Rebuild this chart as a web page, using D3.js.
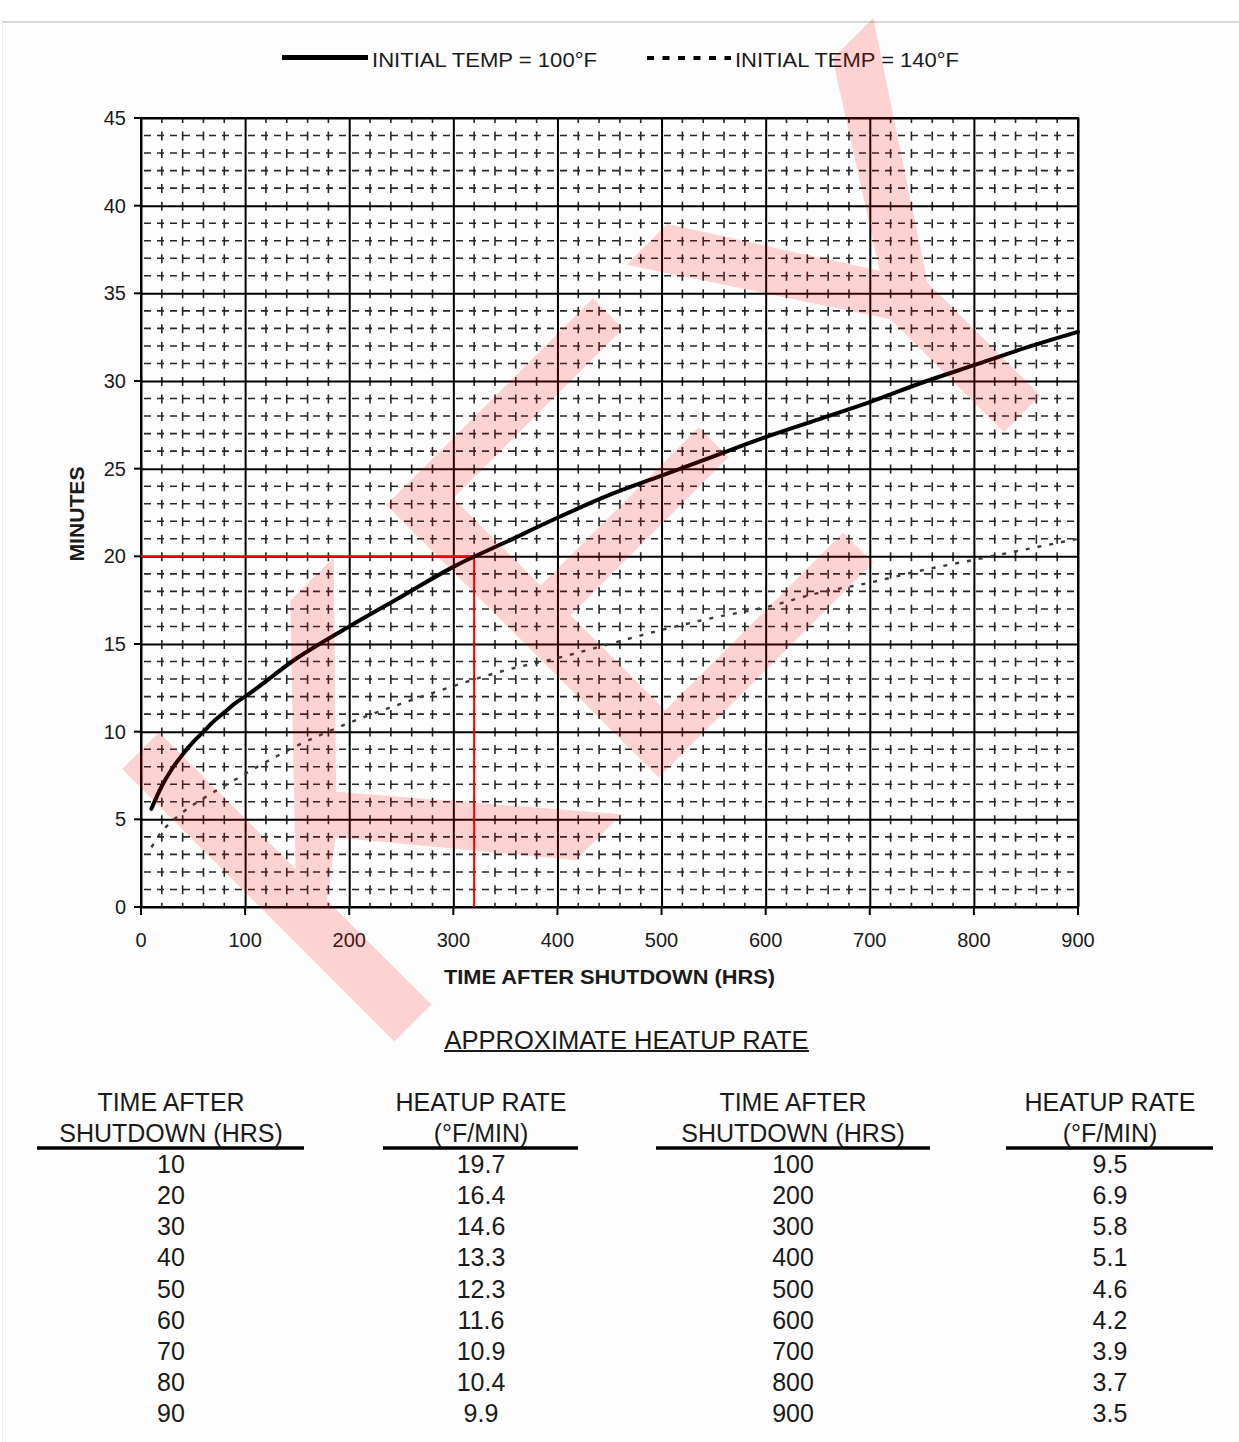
<!DOCTYPE html>
<html>
<head>
<meta charset="utf-8">
<script src="https://cdn.jsdelivr.net/npm/d3@7"></script>
<style>
  html, body { margin: 0; padding: 0; background: #fff; }
  svg { display: block; }
  text { font-family: "Liberation Sans", Arial, sans-serif; }
</style>
</head>
<body>
<svg id="chart" width="1239" height="1442"></svg>
<script>
// ---- data ----
const hourTicks = [0, 100, 200, 300, 400, 500, 600, 700, 800, 900];
const minuteTicks = [0, 5, 10, 15, 20, 25, 30, 35, 40, 45];

// Initial temp = 100°F (solid)
const hours100 = [10, 20, 30, 40, 50, 60, 70, 80, 90, 100, 150, 200, 250, 300, 350, 400, 450, 500, 550, 600, 650, 700, 750, 800, 850, 900];
const minutes100 = [5.6, 6.9, 7.9, 8.7, 9.4, 10.0, 10.6, 11.1, 11.6, 12.0, 14.2, 16.0, 17.7, 19.4, 20.8, 22.2, 23.5, 24.6, 25.7, 26.8, 27.8, 28.8, 29.9, 30.9, 31.9, 32.8];

// Initial temp = 140°F (dotted)
const hours140 = [10, 20, 30, 40, 60, 80, 100, 150, 200, 250, 300, 350, 400, 450, 500, 550, 600, 650, 700, 750, 800, 850, 900];
const minutes140 = [3.4, 4.3, 4.9, 5.4, 6.2, 6.9, 7.6, 9.2, 10.5, 11.6, 12.6, 13.5, 14.2, 15.0, 15.8, 16.5, 17.1, 17.9, 18.5, 19.2, 19.8, 20.4, 21.0];

// Reference reading marked in red
const markHours = 320;
const markMinutes = 20;

// Heatup rate table
const tableHoursA = [10, 20, 30, 40, 50, 60, 70, 80, 90];
const tableRatesA = ["19.7", "16.4", "14.6", "13.3", "12.3", "11.6", "10.9", "10.4", "9.9"];
const tableHoursB = [100, 200, 300, 400, 500, 600, 700, 800, 900];
const tableRatesB = ["9.5", "6.9", "5.8", "5.1", "4.6", "4.2", "3.9", "3.7", "3.5"];

const legendLabels = ["INITIAL TEMP = 100°F", "INITIAL TEMP = 140°F"];

// ---- layout ----
const svg = d3.select("#chart");
const plot = { left: 141, right: 1078, top: 118, bottom: 907 };
const x = d3.scaleLinear().domain([0, 900]).range([plot.left, plot.right]);
const y = d3.scaleLinear().domain([0, 45]).range([plot.bottom, plot.top]);

svg.append("rect").attr("width", 1239).attr("height", 1442).attr("fill", "#fff");

// page edge
svg.append("rect").attr("x", 2).attr("y", 22).attr("width", 1237).attr("height", 1420).attr("fill", "#fdfdfd");
svg.append("line").attr("x1", 2).attr("x2", 1239).attr("y1", 22).attr("y2", 22)
  .attr("stroke", "#c9c9c9").attr("stroke-width", 1.5);
svg.append("line").attr("x1", 2.5).attr("x2", 2.5).attr("y1", 22).attr("y2", 1442)
  .attr("stroke", "#ececec").attr("stroke-width", 1);

// ---- grid ----
const grid = svg.append("g");
const minorHours = d3.range(0, 901, 20).filter(v => v % 100 !== 0);
const minorMinutes = d3.range(0, 46, 1).filter(v => v % 5 !== 0);

grid.selectAll("line.mv").data(minorHours).join("line")
  .attr("x1", d => x(d)).attr("x2", d => x(d))
  .attr("y1", plot.top).attr("y2", plot.bottom)
  .attr("stroke", "#262626").attr("stroke-width", 1.6)
  .attr("stroke-dasharray", "9,8.53").attr("stroke-dashoffset", 4);

grid.selectAll("line.mh").data(minorMinutes).join("line")
  .attr("x1", plot.left).attr("x2", plot.right)
  .attr("y1", d => y(d)).attr("y2", d => y(d))
  .attr("stroke", "#262626").attr("stroke-width", 1.6)
  .attr("stroke-dasharray", "7,6").attr("stroke-dashoffset", -3);

// major grid + ticks via d3 axes
const xAxis = d3.axisBottom(x).tickValues(hourTicks)
  .tickSize(-(plot.bottom - plot.top)).tickSizeOuter(0).tickFormat("");
const gx = svg.append("g").attr("transform", `translate(0,${plot.bottom})`).call(xAxis);
gx.select(".domain").remove();
gx.selectAll(".tick line").attr("stroke", "#000").attr("stroke-width", 2);

const yAxis = d3.axisLeft(y).tickValues(minuteTicks)
  .tickSize(-(plot.right - plot.left)).tickSizeOuter(0).tickFormat("");
const gy = svg.append("g").attr("transform", `translate(${plot.left},0)`).call(yAxis);
gy.select(".domain").remove();
gy.selectAll(".tick line").attr("stroke", "#000").attr("stroke-width", 2);

// outside tick marks
svg.append("g").selectAll("line").data(hourTicks).join("line")
  .attr("x1", d => x(d)).attr("x2", d => x(d))
  .attr("y1", plot.bottom).attr("y2", plot.bottom + 8)
  .attr("stroke", "#000").attr("stroke-width", 2);
svg.append("g").selectAll("line").data(minuteTicks).join("line")
  .attr("x1", plot.left - 7).attr("x2", plot.left)
  .attr("y1", d => y(d)).attr("y2", d => y(d))
  .attr("stroke", "#000").attr("stroke-width", 2);

// frame
svg.append("rect")
  .attr("x", plot.left).attr("y", plot.top)
  .attr("width", plot.right - plot.left).attr("height", plot.bottom - plot.top)
  .attr("fill", "none").attr("stroke", "#000").attr("stroke-width", 2);

// tick labels
svg.append("g").selectAll("text").data(hourTicks).join("text")
  .attr("x", d => x(d)).attr("y", 947)
  .attr("text-anchor", "middle").attr("font-size", 20).attr("fill", "#1a1a1a")
  .text(d => d);
svg.append("g").selectAll("text").data(minuteTicks).join("text")
  .attr("x", 126).attr("y", d => y(d) + 7)
  .attr("text-anchor", "end").attr("font-size", 20).attr("fill", "#1a1a1a")
  .text(d => d);

// axis titles
svg.append("text")
  .attr("x", (plot.left + plot.right) / 2).attr("y", 984)
  .attr("text-anchor", "middle").attr("font-size", 21).attr("font-weight", "bold")
  .attr("fill", "#1a1a1a")
  .attr("textLength", 331).attr("lengthAdjust", "spacingAndGlyphs")
  .text("TIME AFTER SHUTDOWN (HRS)");
svg.append("text")
  .attr("transform", "translate(84,514) rotate(-90)")
  .attr("text-anchor", "middle").attr("font-size", 21).attr("font-weight", "bold")
  .attr("fill", "#1a1a1a")
  .attr("textLength", 95).attr("lengthAdjust", "spacingAndGlyphs")
  .text("MINUTES");

// ---- reference marker ----
svg.append("path")
  .attr("d", `M${x(0)},${y(markMinutes)} H${x(markHours)} V${y(0)}`)
  .attr("fill", "none").attr("stroke", "#ff0000").attr("stroke-width", 2);

// ---- curves ----
const line = d3.line().curve(d3.curveMonotoneX).x(d => x(d[0])).y(d => y(d[1]));

svg.append("path")
  .attr("d", line(d3.zip(hours140, minutes140)))
  .attr("fill", "none").attr("stroke", "#3a3a3a").attr("stroke-width", 2.4)
  .attr("stroke-dasharray", "4,8");

svg.append("path")
  .attr("d", line(d3.zip(hours100, minutes100)))
  .attr("fill", "none").attr("stroke", "#000").attr("stroke-width", 4)
  .attr("stroke-linecap", "round");

// ---- legend ----
const legend = svg.append("g");
legend.append("line").attr("x1", 282).attr("x2", 368).attr("y1", 57.5).attr("y2", 57.5)
  .attr("stroke", "#000").attr("stroke-width", 5);
legend.append("text").attr("x", 372).attr("y", 67).attr("font-size", 21).attr("fill", "#1a1a1a")
  .attr("textLength", 225).attr("lengthAdjust", "spacingAndGlyphs")
  .text(legendLabels[0]);
legend.append("line").attr("x1", 647).attr("x2", 731).attr("y1", 58).attr("y2", 58)
  .attr("stroke", "#000").attr("stroke-width", 4).attr("stroke-dasharray", "7,8.5");
legend.append("text").attr("x", 735).attr("y", 67).attr("font-size", 21).attr("fill", "#1a1a1a")
  .attr("textLength", 224).attr("lengthAdjust", "spacingAndGlyphs")
  .text(legendLabels[1]);

// ---- table ----
const table = svg.append("g").attr("fill", "#1a1a1a");
table.append("text").attr("x", 626.5).attr("y", 1049).attr("text-anchor", "middle")
  .attr("font-size", 25).attr("textLength", 364).attr("lengthAdjust", "spacingAndGlyphs")
  .text("APPROXIMATE HEATUP RATE");
table.append("line").attr("x1", 444).attr("x2", 809).attr("y1", 1051).attr("y2", 1051)
  .attr("stroke", "#1a1a1a").attr("stroke-width", 2);

const columns = [
  { cx: 171, x1: 37, x2: 304, head: ["TIME AFTER", "SHUTDOWN (HRS)"], values: tableHoursA },
  { cx: 481, x1: 383, x2: 578, head: ["HEATUP RATE", "(°F/MIN)"], values: tableRatesA },
  { cx: 793, x1: 656, x2: 930, head: ["TIME AFTER", "SHUTDOWN (HRS)"], values: tableHoursB },
  { cx: 1110, x1: 1006, x2: 1213, head: ["HEATUP RATE", "(°F/MIN)"], values: tableRatesB }
];
const rowY = d3.scaleLinear().domain([0, 8]).range([1173, 1422]);

columns.forEach(col => {
  const g = table.append("g");
  g.selectAll("text.h").data(col.head).join("text")
    .attr("x", col.cx).attr("y", (d, i) => 1111 + i * 31)
    .attr("text-anchor", "middle").attr("font-size", 25).text(d => d);
  g.append("line").attr("x1", col.x1).attr("x2", col.x2).attr("y1", 1148).attr("y2", 1148)
    .attr("stroke", "#000").attr("stroke-width", 3.5);
  g.selectAll("text.v").data(col.values).join("text")
    .attr("x", col.cx).attr("y", (d, i) => rowY(i))
    .attr("text-anchor", "middle").attr("font-size", 25).text(d => d);
});

// ---- watermark ----
svg.append("text")
  .attr("transform", "translate(362,1074) rotate(-45)")
  .attr("font-size", 560).attr("fill", "#ff0000").attr("fill-opacity", 0.17)
  .text("KEY");
</script>
</body>
</html>
